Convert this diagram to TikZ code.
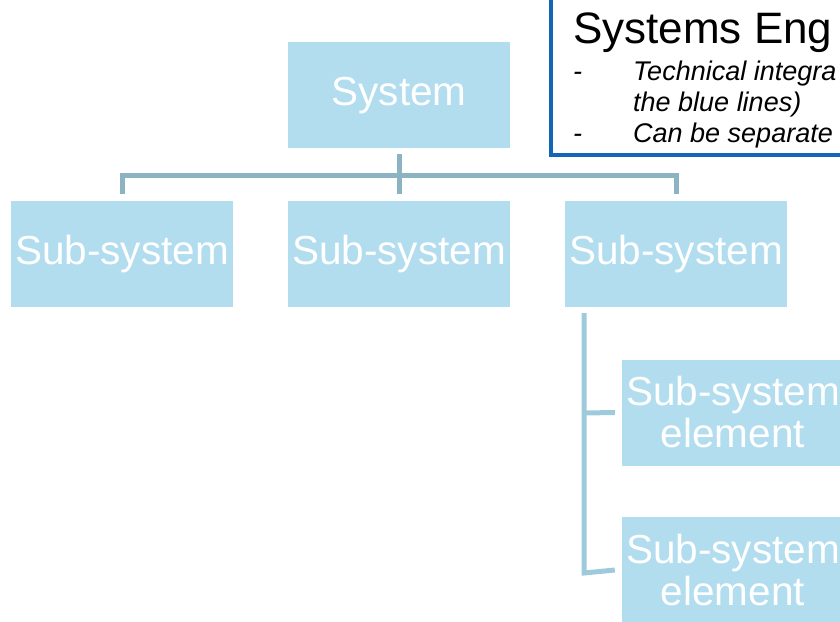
\documentclass[tikz,border=0pt]{standalone}
\usepackage{fontspec}
\setmainfont{Liberation Sans}
\definecolor{boxfill}{HTML}{B1DDEF}
\definecolor{connA}{HTML}{8BB3C1}
\definecolor{connB}{HTML}{9ECBDB}
\definecolor{frame}{HTML}{1565B7}
\newcommand{\lowtxt}[1]{\raisebox{-10.5pt}[0pt][0pt]{#1}}
\begin{document}
\begin{tikzpicture}[x=1pt,y=-1pt,
  blk/.style={fill=boxfill,draw=none,minimum width=222pt,minimum height=106pt,inner sep=0pt,text=white,font=\fontsize{40.5}{42}\selectfont,align=center},
  connA/.style={draw=connA,line width=5pt},
  connB/.style={draw=connB,line width=5pt},
  bul/.style={anchor=base west,inner sep=0pt,font=\fontsize{27}{30}\selectfont\itshape}]
\useasboundingbox (0,0) rectangle (840,621);
\clip (0,0) rectangle (840,621);
\node[blk] (sys) at (399,95) {\lowtxt{System}};
\node[blk] (s1) at (122,254) {\lowtxt{Sub-system}};
\node[blk] (s2) at (399,254) {\lowtxt{Sub-system}};
\node[blk] (s3) at (676,254) {\lowtxt{Sub-system}};
\node[blk] (e1) at (733,412.5) {Sub-system\\element};
\node[blk] (e2) at (733,570) {Sub-system\\element};
% connectors top
\coordinate (hl) at (122,175);
\coordinate (hr) at (676,175);
\draw[connA] ([yshift=-6pt]sys.south) -- ([yshift=7pt]s2.north);
\draw[connA] ([yshift=7pt]s1.north) -- (hl) -- (hr) -- ([yshift=7pt]s3.north);
% connectors right
\coordinate (vt) at (584,313);
\coordinate (vb) at (584,573);
\draw[connB] (vt) -- (vb) -- ([xshift=-7pt]e2.west);
\draw[connB] (584,413) -- ([xshift=-7pt]e1.west);
% text frame
\draw[frame,line width=4pt,fill=white] (551,-10) rectangle (860,155);
\node[anchor=base west,inner sep=0pt,font=\fontsize{44}{46}\selectfont] (title) at (573,43) {Systems Eng};
\node[bul] (d1) at (573,80) {-};
\node[bul] (t1) at (633,80) {Technical integra};
\node[bul] (t2) at (633,111) {the blue lines)};
\node[bul] (d3) at (573,142) {-};
\node[bul] (t3) at (633,142) {Can be separate};
\end{tikzpicture}
\end{document}
